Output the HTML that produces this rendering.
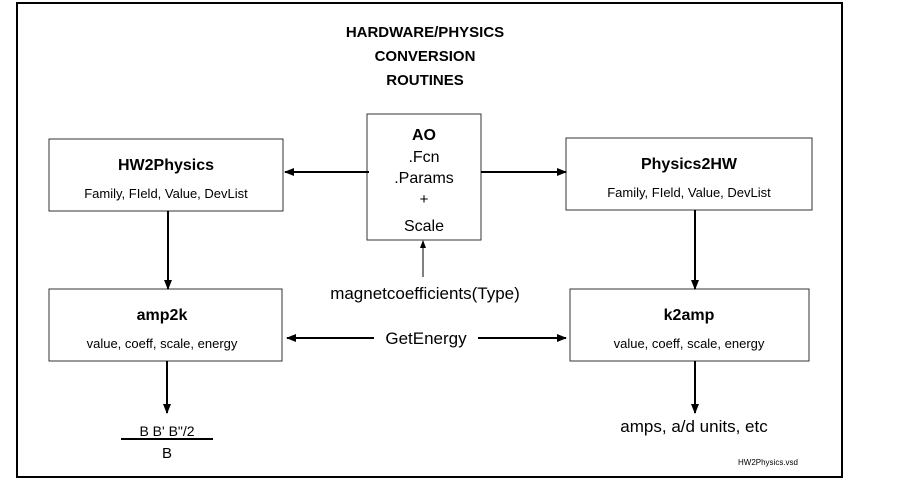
<!DOCTYPE html>
<html><head><style>
body{margin:0;background:#fff;}
svg text{font-family:"Liberation Sans",Arial,sans-serif;fill:#000;}
</style></head><body>
<svg width="901" height="482" viewBox="0 0 901 482" xmlns="http://www.w3.org/2000/svg">
<defs>
<marker id="a" markerWidth="10" markerHeight="10" refX="9" refY="5" orient="auto" markerUnits="userSpaceOnUse">
<path d="M0,1 L10,5 L0,9 Z" fill="#000"/></marker>
<marker id="s" markerWidth="8" markerHeight="8" refX="7" refY="4" orient="auto" markerUnits="userSpaceOnUse">
<path d="M0,1 L8,4 L0,7 Z" fill="#000"/></marker>
</defs>
<rect x="17" y="3" width="825" height="474" fill="none" stroke="#000" stroke-width="2"/>
<g font-weight="bold" font-size="15" text-anchor="middle">
<text x="425" y="37">HARDWARE/PHYSICS</text>
<text x="425" y="61">CONVERSION</text>
<text x="425" y="85">ROUTINES</text>
</g>
<g fill="#fff" stroke="#333" stroke-width="1">
<rect x="49" y="139" width="234" height="72"/>
<rect x="367" y="114" width="114" height="126"/>
<rect x="566" y="138" width="246" height="72"/>
<rect x="49" y="289" width="233" height="72"/>
<rect x="570" y="289" width="239" height="72"/>
</g>
<g text-anchor="middle">
<text x="166" y="170" font-weight="bold" font-size="16">HW2Physics</text>
<text x="166" y="198" font-size="13">Family, FIeld, Value, DevList</text>
<text x="689" y="169" font-weight="bold" font-size="16">Physics2HW</text>
<text x="689" y="197" font-size="13">Family, FIeld, Value, DevList</text>
<text x="162" y="320" font-weight="bold" font-size="16">amp2k</text>
<text x="162" y="348" font-size="13">value, coeff, scale, energy</text>
<text x="689" y="320" font-weight="bold" font-size="16">k2amp</text>
<text x="689" y="348" font-size="13">value, coeff, scale, energy</text>
<text x="424" y="140" font-weight="bold" font-size="16">AO</text>
<text x="424" y="162" font-size="16">.Fcn</text>
<text x="424" y="183" font-size="16">.Params</text>
<text x="424" y="204" font-size="15">+</text>
<text x="424" y="231" font-size="16">Scale</text>
<text x="425" y="299" font-size="17">magnetcoefficients(Type)</text>
<text x="426" y="344" font-size="17">GetEnergy</text>
<text x="694" y="432" font-size="17">amps, a/d units, etc</text>
<text x="768" y="465" font-size="8">HW2Physics.vsd</text>
<text x="167" y="436" font-size="14">B    B'    B"/2</text>
<text x="167" y="458" font-size="15">B</text>
</g>
<g stroke="#000" stroke-width="2" fill="none">
<line x1="369" y1="172" x2="285" y2="172" marker-end="url(#a)"/>
<line x1="481" y1="172" x2="566" y2="172" marker-end="url(#a)"/>
<line x1="168" y1="211" x2="168" y2="289" marker-end="url(#a)"/>
<line x1="695" y1="210" x2="695" y2="289" marker-end="url(#a)"/>
<line x1="374" y1="338" x2="287" y2="338" marker-end="url(#a)"/>
<line x1="478" y1="338" x2="566" y2="338" marker-end="url(#a)"/>
<line x1="167" y1="361" x2="167" y2="413" marker-end="url(#a)"/>
<line x1="695" y1="361" x2="695" y2="413" marker-end="url(#a)"/>
<line x1="121" y1="439" x2="213" y2="439"/>
</g>
<line x1="423" y1="277" x2="423" y2="241" stroke="#000" stroke-width="1" marker-end="url(#s)"/>
</svg>
</body></html>
